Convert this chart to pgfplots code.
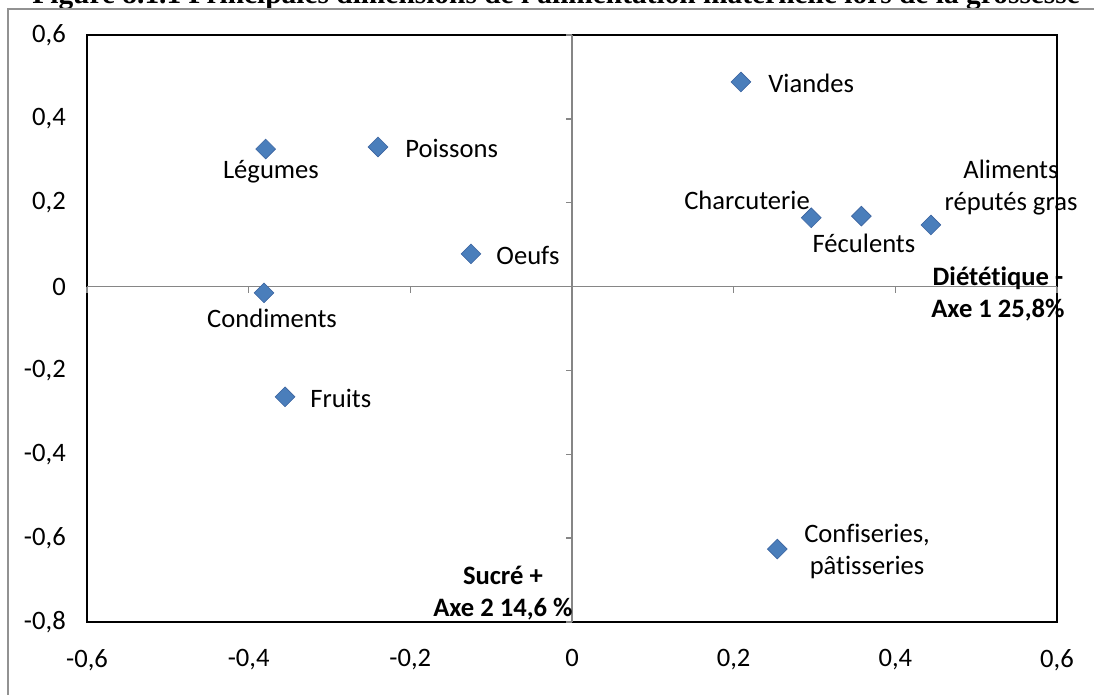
\documentclass[border=0pt]{standalone}
\usepackage{fontspec}
\setmainfont[Ligatures=NoCommon]{Carlito}
\newfontfamily\titlefont{Liberation Serif}
\usepackage{pgfplots}
\pgfplotsset{compat=1.18}
\definecolor{mk}{RGB}{74,126,187}
\definecolor{mkedge}{RGB}{60,100,160}
\definecolor{zl}{RGB}{134,134,134}
\begin{document}
\fontsize{13.3}{16}\selectfont
\begin{tikzpicture}
\useasboundingbox (0,0) rectangle (547pt,-347.5pt);
\clip (0,0) rectangle (547pt,-347.5pt);
\node[anchor=base west, inner sep=0pt, font=\titlefont\bfseries\fontsize{14.7}{16}\selectfont] at (16pt,-2pt) {Figure 8.1.1 Principales dimensions de l'alimentation maternelle lors de la grossesse};
\draw[zl!90, line width=0.75pt] (4pt,-4.5pt) rectangle (600pt,-400pt);
\begin{axis}[
  at={(43.5pt,-311pt)}, anchor=south west,
  width=485pt, height=293.5pt, scale only axis,
  xmin=-0.6, xmax=0.6, ymin=-0.8, ymax=0.6,
  xtick={-0.6,-0.4,...,0.6}, ytick={-0.8,-0.6,...,0.6},
  tick style={draw=none},
  axis line style={black, line width=1pt},
  xticklabel style={yshift=-9pt},
  yticklabel style={xshift=-6pt},
  /pgf/number format/.cd, use comma, fixed, precision=1, assume math mode=true,
  /pgfplots/.cd,
  ticklabel style={font=\fontsize{13.3}{16}\selectfont},
  clip=false,
]
\draw[zl, line width=0.65pt] (axis cs:-0.6,0) -- (axis cs:0.6,0);
\draw[zl, line width=0.65pt] (axis cs:0,-0.8) -- (axis cs:0,0.6);
\pgfplotsinvokeforeach{-0.6,-0.4,-0.2,0.2,0.4,0.6}{
  \draw[zl, line width=0.65pt] (axis cs:#1,0) -- ++(0pt,-3pt);
}
\pgfplotsinvokeforeach{-0.8,-0.6,-0.4,-0.2,0.2,0.4,0.6}{
  \draw[zl, line width=0.65pt] (axis cs:0,#1) -- ++(-3pt,0pt);
}
\addplot[only marks, mark=square*, mark size=3.5pt,
  mark options={rotate=45, fill=mk, draw=mkedge, line width=0.3pt}]
coordinates {
  (0.209,0.488)
  (-0.379,0.328)
  (-0.240,0.333)
  (-0.125,0.078)
  (-0.381,-0.015)
  (-0.355,-0.263)
  (0.296,0.164)
  (0.358,0.168)
  (0.444,0.147)
  (0.254,-0.626)
};
\node[anchor=west, inner sep=0pt] at (axis cs:0.2425,0.4855) {Viandes};
\node[anchor=west, inner sep=0pt] at (axis cs:-0.2066,0.3305) {Poissons};
\node[inner sep=0pt] at (axis cs:-0.3724,0.2733) {Légumes};
\node[anchor=west, inner sep=0pt] at (axis cs:-0.0940,0.0730) {Oeufs};
\node[inner sep=0pt] at (axis cs:-0.3711,-0.0749) {Condiments};
\node[anchor=west, inner sep=0pt] at (axis cs:-0.3241,-0.2657) {Fruits};
\node[inner sep=0pt] at (axis cs:0.2165,0.2065) {Charcuterie};
\node[inner sep=0pt] at (axis cs:0.3612,0.1040) {Féculents};
\node[inner sep=0pt, align=center] at (axis cs:0.5431,0.2352) {Aliments\\réputés gras};
\node[inner sep=0pt, align=center] at (axis cs:0.3650,-0.6307) {Conf\kern0pt iseries,\\pât\kern0pt isseries};
\node[anchor=east, inner sep=0pt, align=center, font=\bfseries] at (axis cs:0.6099,-0.0176) {Diétét\kern0pt ique -\\Axe 1 25,8\%};
\node[anchor=east, inner sep=0pt, align=center, font=\bfseries] at (axis cs:0.0012,-0.7307) {Sucré +\\Axe 2 14,6 \%};
\end{axis}
\end{tikzpicture}
\end{document}
